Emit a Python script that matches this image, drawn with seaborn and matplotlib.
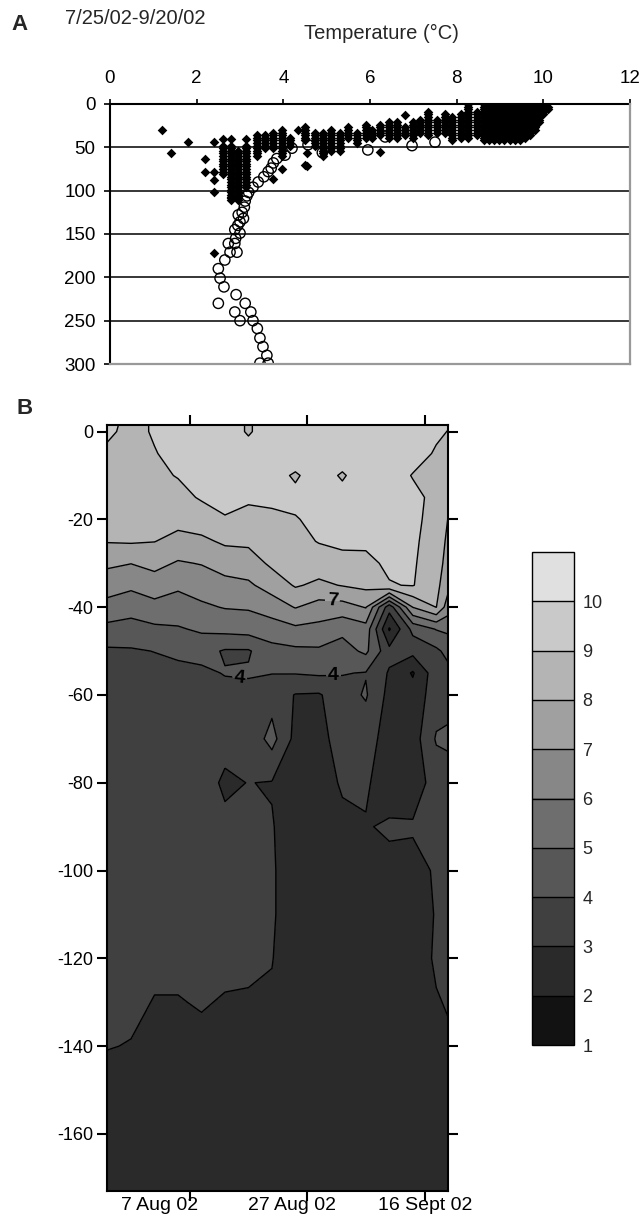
import numpy as np
import matplotlib
matplotlib.use('Agg')
import matplotlib.pyplot as plt
from matplotlib.colors import ListedColormap, BoundaryNorm
import seaborn as sns

sns.set_theme(style='white')
plt.rcParams['font.family'] = ['Liberation Sans', 'DejaVu Sans']
plt.rcParams['axes.unicode_minus'] = False

# ---------------- panel A: temperature profiles ----------------
profile_depths = [0, 3, 6, 9, 12, 15, 18, 21, 24, 27, 30, 33, 36, 39, 42, 45, 48, 51,
                  54, 57, 60, 63, 66, 69, 72, 75, 78, 81, 84, 87, 90, 93, 96, 99, 102,
                  105, 108, 111]

# diamond columns: one temperature, observed from col_top to col_bottom (m)
col_temp = [8.26, 8.47, 8.62, 8.74, 8.86, 8.98, 9.10, 9.22, 9.34, 9.46, 9.58, 9.70, 9.80, 9.90, 10.0, 10.1,
            8.1, 7.9, 7.73, 7.55, 7.35, 7.15, 7.0, 6.8, 6.62, 6.43, 6.23, 6.05, 5.9, 5.7, 5.5,
            5.3, 5.1, 4.92, 4.73, 4.5, 4.16, 3.97, 3.77, 3.58, 3.39, 3.13, 2.95, 2.8, 2.6]
col_top = [0, 9, 0, 0, 0, 0, 0, 0, 0, 0, 0, 0, 0, 0, 0, 3,
           12, 15, 12, 18, 9, 18, 21, 27, 21, 21, 24, 30, 24, 33, 27,
           33, 30, 33, 33, 27, 39, 30, 33, 36, 36, 48, 54, 48, 48]
col_bottom = [39, 36, 42, 42, 42, 42, 42, 42, 42, 42, 39, 36, 30, 21, 12, 6,
              39, 42, 33, 33, 36, 33, 39, 36, 39, 39, 36, 39, 39, 45, 39,
              54, 54, 60, 48, 42, 48, 60, 51, 51, 60, 96, 111, 111, 81]

single_temp = [1.2, 1.41, 1.8, 2.2, 2.2, 2.4, 2.4, 2.4, 2.4, 2.4, 2.6, 2.8, 2.8, 3.13,
               3.77, 3.97, 4.35, 4.5, 4.55, 4.55, 6.23, 6.8]
single_depth = [30, 57, 44, 63, 78, 44, 78, 88, 102, 172, 40, 40, 107, 40,
                86, 75, 30, 70, 57, 72, 55, 13]

circle_temp = [9.88, 9.83, 7.5, 6.97, 6.35, 5.95, 4.9, 4.57, 4.2, 4.04,
               3.85, 3.77, 3.72, 3.65, 3.55, 3.42, 3.3, 3.2, 3.16, 3.12,
               3.1, 3.05, 2.96, 3.08, 3.0, 2.95, 2.88, 3.0, 2.9, 2.73,
               2.88, 2.77, 2.93, 2.65, 2.5, 2.54, 2.63, 2.91, 2.5, 3.12,
               2.88, 3.25, 3.0, 3.3, 3.4, 3.46, 3.53, 3.62, 3.46, 3.65]
circle_depth = [9, 12, 44, 48, 38, 53, 56, 47, 51, 59,
                63, 68, 74, 78, 84, 90, 96, 102, 106, 112,
                119, 125, 128, 132, 136, 140, 145, 149, 155, 161,
                161, 171, 171, 180, 190, 201, 211, 220, 230, 230,
                240, 240, 250, 250, 259, 270, 280, 290, 299, 299]

# ---------------- panel B: temperature section ----------------
days = [-1.1, 3, 7, 11, 15, 19, 23, 27, 31, 35, 39, 43, 47, 51, 55, 57]  # days after 25 Jul 02
depths = [2, 0, -5, -10, -15, -20, -25, -30, -35, -40, -45, -50, -55, -60, -70, -80,
          -90, -100, -110, -120, -130, -140, -150, -160, -175]

temperature_by_day = [
    [9.3, 9.2, 8.8, 8.7, 8.5, 8.3, 8.05, 7.2, 6.4, 5.7, 4.7, 3.85, 3.7, 3.6, 3.5, 3.45, 3.4, 3.35, 3.3, 3.2, 3.1, 3.02, 2.8, 2.7, 2.6],
    [8.7, 8.7, 8.7, 8.6, 8.5, 8.3, 8.1, 7.02, 6.2, 5.4, 4.6, 3.9, 3.7, 3.6, 3.5, 3.45, 3.4, 3.3, 3.25, 3.15, 3.1, 2.98, 2.8, 2.7, 2.6],
    [9.1, 9.1, 8.95, 8.8, 8.6, 8.4, 8.02, 7.3, 6.5, 5.7, 4.8, 4.02, 3.7, 3.6, 3.5, 3.4, 3.35, 3.3, 3.2, 3.1, 2.98, 2.9, 2.8, 2.7, 2.6],
    [9.4, 9.4, 9.3, 9.05, 8.7, 8.3, 7.7, 6.9, 6.15, 5.6, 4.9, 4.15, 3.8, 3.6, 3.5, 3.4, 3.35, 3.3, 3.2, 3.1, 2.98, 2.9, 2.8, 2.7, 2.6],
    [9.5, 9.5, 9.4, 9.3, 9.1, 8.5, 7.8, 7.05, 6.4, 5.85, 5.15, 4.35, 3.8, 3.6, 3.5, 3.4, 3.35, 3.3, 3.2, 3.1, 3.03, 2.9, 2.8, 2.7, 2.6],
    [9.5, 9.5, 9.4, 9.3, 9.2, 8.95, 8.15, 7.4, 6.7, 6.05, 5.3, 3.9, 4.05, 3.7, 3.3, 2.85, 3.2, 3.25, 3.2, 3.1, 2.97, 2.85, 2.8, 2.7, 2.6],
    [8.9, 8.9, 9.4, 9.3, 9.1, 8.8, 8.2, 7.5, 6.85, 6.1, 5.4, 3.9, 4.1, 3.7, 3.3, 3.02, 3.2, 3.25, 3.2, 3.1, 2.95, 2.85, 2.8, 2.7, 2.6],
    [9.5, 9.5, 9.4, 9.3, 9.1, 8.9, 8.6, 8.2, 7.4, 6.5, 5.5, 4.7, 4.02, 3.6, 4.35, 2.95, 3.05, 3.1, 3.1, 3.03, 2.9, 2.8, 2.75, 2.7, 2.6],
    [9.6, 9.6, 9.5, 8.9, 9.2, 8.95, 8.7, 8.4, 8.1, 7.05, 5.8, 4.8, 4.05, 2.95, 2.7, 2.6, 2.55, 2.5, 2.5, 2.5, 2.5, 2.5, 2.5, 2.5, 2.45],
    [9.6, 9.6, 9.5, 9.4, 9.3, 9.2, 9.05, 8.5, 7.8, 6.6, 5.7, 4.85, 4.15, 2.9, 2.7, 2.6, 2.55, 2.5, 2.5, 2.5, 2.5, 2.5, 2.5, 2.5, 2.45],
    [9.6, 9.6, 9.5, 8.9, 9.3, 9.2, 9.1, 8.85, 8.05, 6.6, 5.25, 4.6, 4.05, 3.6, 3.4, 3.1, 2.8, 2.7, 2.6, 2.55, 2.5, 2.5, 2.5, 2.5, 2.45],
    [9.6, 9.6, 9.55, 9.5, 9.4, 9.3, 9.15, 8.8, 8.25, 7.05, 5.6, 5.2, 3.95, 4.1, 3.4, 3.1, 2.95, 2.8, 2.7, 2.6, 2.55, 2.5, 2.5, 2.5, 2.45],
    [9.6, 9.6, 9.55, 9.5, 9.45, 9.4, 9.3, 9.15, 8.95, 3.4, 1.9, 3.3, 2.9, 2.7, 2.6, 2.6, 3.1, 2.8, 2.6, 2.55, 2.5, 2.5, 2.5, 2.5, 2.45],
    [9.5, 9.5, 9.4, 8.95, 9.25, 9.2, 9.15, 9.1, 9.05, 7.02, 4.3, 3.3, 1.9, 2.4, 2.5, 2.5, 3.1, 2.7, 2.6, 2.6, 2.55, 2.5, 2.5, 2.5, 2.45],
    [9.2, 9.15, 8.9, 8.8, 8.75, 8.7, 8.6, 8.5, 8.3, 8.02, 5.05, 3.8, 3.6, 3.5, 4.1, 3.4, 3.3, 3.1, 3.05, 3.1, 2.95, 2.8, 2.7, 2.6, 2.5],
    [9.1, 8.98, 8.7, 8.5, 8.2, 7.98, 7.8, 7.6, 7.3, 6.5, 5.2, 4.3, 3.7, 3.6, 4.2, 3.5, 3.4, 3.3, 3.2, 3.1, 3.05, 2.9, 2.8, 2.7, 2.6],
]

levels = [1, 2, 3, 4, 5, 6, 7, 8, 9, 10, 11]
labelled_levels = [4, 7]
level_colors = ['#121212', '#2a2a2a', '#404040', '#575757', '#6e6e6e',
                '#878787', '#a0a0a0', '#b4b4b4', '#c9c9c9', '#e0e0e0']
date_ticks = [13, 33, 53]
date_label_pos = [7.9, 30.4, 53.1]
date_labels = ['7 Aug 02', '27 Aug 02', '16 Sept 02']

# ---------------- assemble diamonds ----------------
diamond_temp, diamond_depth = [], []
for t, top, bot in zip(col_temp, col_top, col_bottom):
    for d in profile_depths:
        if top <= d <= bot:
            diamond_temp.append(t)
            diamond_depth.append(d)
diamond_temp += single_temp
diamond_depth += single_depth

W, H = 639, 1224
fig = plt.figure(figsize=(W / 100, H / 100), dpi=100)
fig.patch.set_facecolor('white')

# ---------------- panel A ----------------
axA = fig.add_axes([110 / W, 1 - 364 / H, 520 / W, 260 / H])
sns.scatterplot(x=diamond_temp, y=diamond_depth, marker='D', s=24, color='black',
                linewidth=0, ax=axA, zorder=3)
sns.scatterplot(x=circle_temp, y=circle_depth, marker='o', s=55, facecolors='none',
                edgecolor='black', linewidth=1.0, ax=axA, zorder=4)
axA.set_xlim(0, 12)
axA.set_ylim(300, 0)
axA.set_xticks(range(0, 13, 2))
axA.set_yticks(range(0, 301, 50))
axA.xaxis.tick_top()
axA.yaxis.grid(True, color='black', linewidth=1.1)
axA.xaxis.grid(False)
axA.set_axisbelow(True)
axA.tick_params(axis='x', top=True, bottom=False, direction='out', length=3.6, width=1.2,
                labelsize=13.5, pad=8.5, colors='black')
axA.tick_params(axis='y', left=True, direction='out', length=4.3, width=1.2,
                labelsize=13.5, pad=6, colors='black')
for side in ['top', 'left']:
    axA.spines[side].set_color('black')
    axA.spines[side].set_linewidth(1.5)
for side in ['right', 'bottom']:
    axA.spines[side].set_color('#999999')
    axA.spines[side].set_linewidth(1.6)
    axA.spines[side].set_zorder(5)
axA.set_xlabel('')
axA.set_ylabel('')

fig.text(381 / W, 1 - 33 / H, 'Temperature (\u00b0C)', ha='center', va='center', fontsize=14.5)
fig.text(19 / W, 1 - 24 / H, 'A', ha='center', va='center', fontsize=16, fontweight='bold')
fig.text(65 / W, 1 - 19 / H, '7/25/02-9/20/02', ha='left', va='center', fontsize=14.5)

# ---------------- panel B ----------------
axB = fig.add_axes([107 / W, 1 - 1191 / H, 341 / W, 766 / H])
grid = np.array(temperature_by_day).T
cmap = ListedColormap(level_colors)
norm = BoundaryNorm(levels, cmap.N)
cf = axB.contourf(days, depths, grid, levels=levels, cmap=cmap, norm=norm)
plain_levels = [lv for lv in levels[1:-1] if lv not in labelled_levels]
axB.contour(days, depths, grid, levels=plain_levels, colors='black', linewidths=1.0)
cl = axB.contour(days, depths, grid, levels=labelled_levels, colors='black', linewidths=1.0)
axB.clabel(cl, manual=[(21.5, -56), (37.5, -56), (37.3, -38.5)],
           fmt='%d', fontsize=14, colors='black', inline=True, inline_spacing=2)
for txt in cl.labelTexts:
    txt.set_fontweight('bold')
axB.set_xlim(-1.1, 57)
axB.set_ylim(-173, 1.5)
axB.set_xticks(date_ticks)
axB.set_xticklabels([])
axB.set_xticks(date_label_pos, date_labels, minor=True)
axB.set_yticks(range(-160, 1, 20))
axB.tick_params(axis='both', which='major', direction='out', length=7, width=1.5,
                top=True, right=True, bottom=True, left=True, labelsize=13, colors='black')
axB.tick_params(axis='x', which='minor', length=0, labelsize=14, pad=4, colors='black',
                bottom=True, top=False)
axB.tick_params(axis='y', pad=3)
for side in axB.spines:
    axB.spines[side].set_color('black')
    axB.spines[side].set_linewidth(1.5)
fig.text(25 / W, 1 - 409 / H, 'B', ha='center', va='center', fontsize=16, fontweight='bold')

# ---------------- colour bar ----------------
cax = fig.add_axes([532 / W, 1 - 1045 / H, 42 / W, 493 / H])
cb = fig.colorbar(cf, cax=cax, ticks=levels[:-1], drawedges=True)
cb.minorticks_off()
cb.outline.set_edgecolor('black')
cb.outline.set_linewidth(1.0)
cb.dividers.set_color('black')
cb.dividers.set_linewidth(1.0)
cax.tick_params(which='both', length=0, labelsize=13, pad=6)

fig.savefig('out.png', dpi=100, facecolor='white')
